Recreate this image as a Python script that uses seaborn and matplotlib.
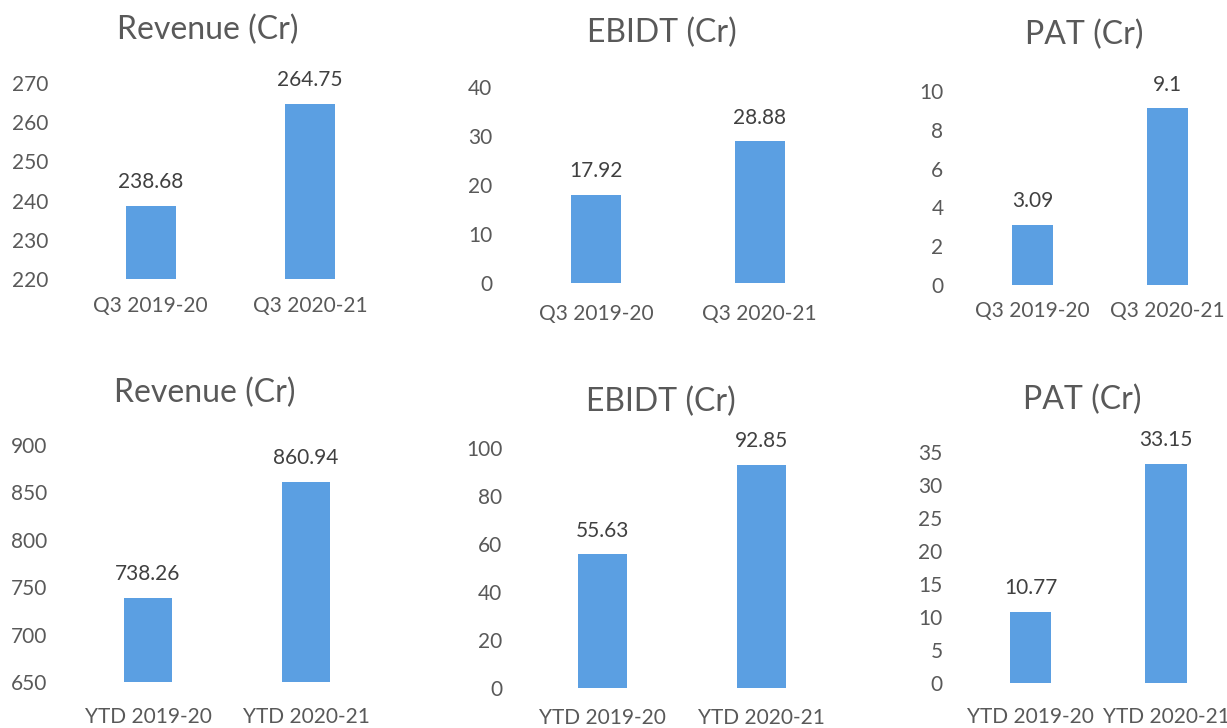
import matplotlib.pyplot as plt
import seaborn as sns

# periods on the x axis
q3_periods = ['Q3 2019-20', 'Q3 2020-21']
ytd_periods = ['YTD 2019-20', 'YTD 2020-21']

# values in crore
revenue_q3 = [238.68, 264.75]
ebidt_q3 = [17.92, 28.88]
pat_q3 = [3.09, 9.1]
revenue_ytd = [738.26, 860.94]
ebidt_ytd = [55.63, 92.85]
pat_ytd = [10.77, 33.15]

titles = ['Revenue (Cr)', 'EBIDT (Cr)', 'PAT (Cr)']

sns.set_theme(style='white')
plt.rcParams['font.family'] = ['Lato', 'DejaVu Sans']

W, H = 1227, 728
bar_color = '#5b9fe2'
txt = '#595959'

fig = plt.figure(figsize=(W / 100, H / 100), dpi=100)

# layout in pixels: label right edge, bar centres, bar width, y px of axis min/max,
# x label centre y, title centre
panels = [
    (titles[0], q3_periods, revenue_q3, (220, 270), 10, (48, 150.5, 310, 50, 279, 83, 305, 208, 30)),
    (titles[1], q3_periods, ebidt_q3, (0, 40), 10, (492, 596, 759.5, 50, 283, 87, 313, 662, 33)),
    (titles[2], q3_periods, pat_q3, (0, 10), 2, (943, 1032.5, 1167.5, 41, 285, 91, 310, 1084, 35)),
    (titles[0], ytd_periods, revenue_ytd, (650, 900), 50, (47, 148, 306, 48, 682, 445, 716, 205, 393)),
    (titles[1], ytd_periods, ebidt_ytd, (0, 100), 20, (502, 602.5, 761.5, 49, 688, 448, 717, 661, 402)),
    (titles[2], ytd_periods, pat_ytd, (0, 35), 5, (942, 1030.5, 1166, 41.5, 683, 452, 716, 1082, 400)),
]

for title, periods, values, (lo, hi), step, geom in panels:
    lab_r, c0, c1, bw, ybot, ytop, xl_y, tx, ty = geom
    s = c1 - c0
    left = lab_r + 6
    right = c1 + 0.6 * s
    ax = fig.add_axes([left / W, 1 - ybot / H, (right - left) / W, (ybot - ytop) / H])

    sns.barplot(x=periods, y=values, ax=ax, color=bar_color, width=bw / s,
                saturation=1, edgecolor='none')
    ax.set_xlim((left - c0) / s, 1.6)
    ax.set_ylim(lo, hi)
    ax.set_yticks(range(lo, hi + 1, step))
    for sp in ax.spines.values():
        sp.set_visible(False)
    ax.tick_params(axis='y', length=0, pad=4, labelsize=15, labelcolor=txt)
    ax.tick_params(axis='x', length=0, pad=(xl_y - ybot - 9) * 0.72,
                   labelsize=15, labelcolor=txt)
    ax.bar_label(ax.containers[0], fmt='{:g}', padding=10, fontsize=15, color='#404040')
    ax.grid(False)

    fig.text(tx / W, 1 - ty / H, title, ha='center', va='center', fontsize=23, color=txt)

fig.savefig('out.png', dpi=100, facecolor='white')
